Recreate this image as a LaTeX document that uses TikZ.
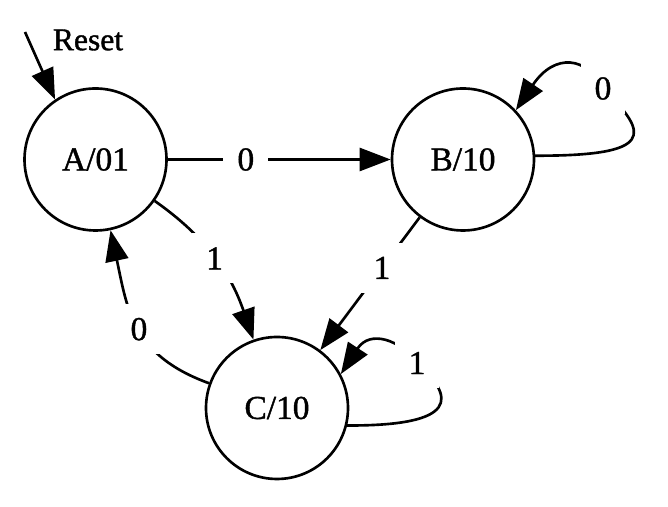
\documentclass[tikz,border=0pt]{standalone}
\usepackage{fontspec}
\setmainfont{Liberation Serif}[FakeBold=1.2]
\usetikzlibrary{arrows.meta}
\tikzset{st/.style={draw,circle,minimum size=2.84cm,inner sep=0pt,font=\fontsize{19}{19}\selectfont}}
\tikzset{lbl/.style={fill=white,inner sep=0.28cm,font=\fontsize{19}{19}\selectfont}}
\tikzset{rst/.style={font=\fontsize{18}{18}\selectfont}}

\begin{document}
\begin{tikzpicture}[line join=round,line width=1.5pt,>={Triangle[length=0.62cm,width=0.46cm]}]
  \useasboundingbox (0,0) rectangle (13.36,10.14);
  \node [st] (A) at (1.91,6.95) {A/01};
  \node [st] (B) at (9.26,6.95) {B/10}
    edge [<-] node [lbl, pos=0.65] {0} (A);
  \node [st] (C) at (5.54,1.98) {C/10}
    edge [<-] node [lbl, pos=0.62] {1} (B)
    edge [<-, out=109, in=-35] node [lbl, pos=0.52] {1} (A)
    edge [->, out=160, in=-78, looseness=1.15] node [lbl, pos=0.48] {0} (A);
  % reset input
  \coordinate (r) at (0.5,9.5);
  \node [rst] (reset) at (1.76,9.34) {Reset};
  \draw [->] (r) -- (A.124);
  % self loops
  \draw [->] (B.3) .. controls (13.1,7.02) and (13.0,7.45) .. (12.06,8.37) node [lbl] {0}
    .. controls (11.75,9.0) and (11.1,9.1) .. (B.43);
  \draw [->] (C.-14) .. controls (9.2,1.62) and (9.1,2.2) .. (8.34,2.88) node [lbl] {1}
    .. controls (8.0,3.35) and (7.4,3.55) .. (C.28);
\end{tikzpicture}
\end{document}
